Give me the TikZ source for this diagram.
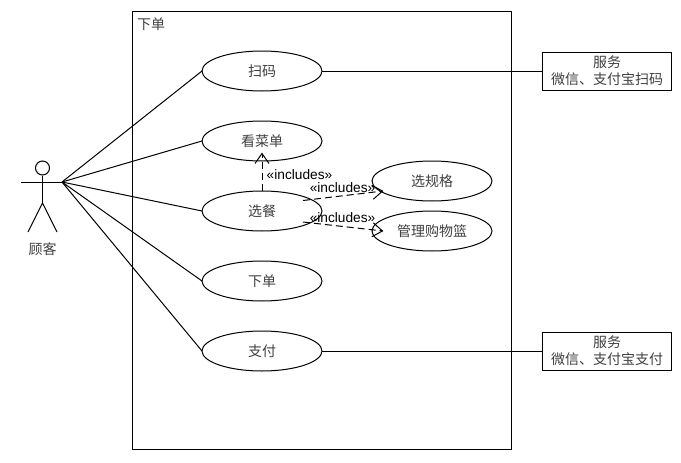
\documentclass[tikz,border=0pt]{standalone}
\usepackage{fontspec}
\setmainfont{Liberation Sans}
\newfontfamily\cjk{Noto Sans CJK SC}
\usetikzlibrary{shapes.geometric,arrows.meta}
\pgfarrowsdeclare{openv}{openv}{\pgfarrowsleftextend{-10pt}\pgfarrowsrightextend{0.5pt}}{%
  \pgfsetdash{}{0pt}\pgfsetlinewidth{1pt}%
  \pgfpathmoveto{\pgfpoint{-10pt}{7pt}}\pgfpathlineto{\pgfpointorigin}\pgfpathlineto{\pgfpoint{-10pt}{-7pt}}\pgfusepathqstroke}
\tikzset{
  uc/.style={draw=black,ellipse,line width=1pt,inner sep=0pt,outer sep=0pt,minimum width=120pt,minimum height=40pt,font=\cjk\fontsize{14pt}{16pt}\selectfont,text=black!75},
  svc/.style={draw=black,line width=1pt,inner sep=0pt,outer sep=0pt,minimum width=129pt,minimum height=38pt,align=center,font=\cjk\fontsize{14pt}{17pt}\selectfont,text=black!75},
  cjklabel/.style={inner sep=0pt,font=\cjk\fontsize{14pt}{16pt}\selectfont,text=black!75},
  solidline/.style={line width=1pt,draw=black},
  incl/.style={line width=1pt,draw=black,dash pattern=on 7pt off 4pt,-openv},
  incltext/.style={inner sep=0pt,font=\fontsize{13.7pt}{16pt}\selectfont,text=black}
}
\begin{document}
\begin{tikzpicture}[x=1pt,y=-1pt]
\useasboundingbox[fill=white] (0,0) rectangle (681,463);
\node[draw=black,line width=1pt,inner sep=0pt,minimum width=379pt,minimum height=438.5pt] (sys) at (322,230.7) {};
\node[cjklabel] (title) at (151,24) {下单};
% actor
\node[draw=black,circle,line width=1pt,inner sep=0pt,minimum size=14pt] (head) at (42.5,168) {};
\coordinate (hand) at (62,182);
\coordinate (lhand) at (21,182);
\coordinate (hip) at (42.5,203);
\coordinate (lfoot) at (28,232);
\coordinate (rfoot) at (57,232);
\draw[solidline] (head.south) -- (hip);
\draw[solidline] (lhand) -- (hand);
\draw[solidline] (lfoot) -- (hip) -- (rfoot);
\node[cjklabel] (actor) at (42.5,249) {顾客};
% use cases
\node[uc] (a) at (262,71) {扫码};
\node[uc] (b) at (262,141) {看菜单};
\node[uc] (c) at (262,211) {选餐};
\node[uc] (d) at (262,281) {下单};
\node[uc] (e) at (262,351) {支付};
\node[uc] (f) at (432,181) {选规格};
\node[uc] (g) at (432,231) {管理购物篮};
\node[svc] (s1) at (607,71) {服务\\微信、支付宝扫码};
\node[svc] (s2) at (607,351) {服务\\微信、支付宝支付};
\foreach \t in {a,b,c,d,e} \draw[solidline] (hand) -- (\t.west);
\draw[solidline] (a.east) -- (s1.west);
\draw[solidline] (e.east) -- (s2.west);
% includes
\coordinate (b1) at (262,153);
\coordinate (c1) at (303,200.5);
\coordinate (c2) at (303,222);
\coordinate (f1) at (383,191);
\coordinate (g1) at (383,231);
\draw[incl] (c.north) -- (b1);
\draw[incl] (c1) -- (f1);
\draw[incl] (c2) -- (g1);
\node[incltext] (l1) at (299.5,175) {«includes»};
\node[incltext] (l2) at (342.5,187.5) {«includes»};
\node[incltext] (l3) at (342.5,217.5) {«includes»};
\end{tikzpicture}
\end{document}
